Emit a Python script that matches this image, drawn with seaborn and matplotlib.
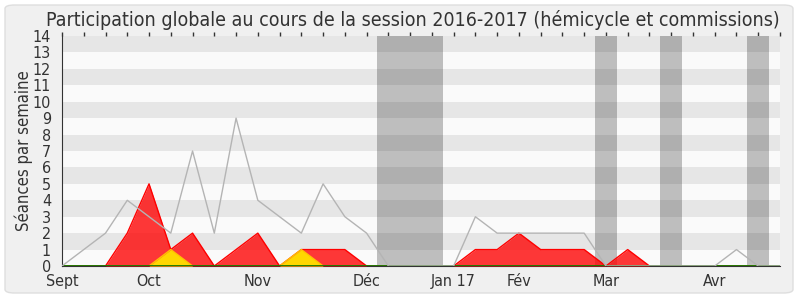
import matplotlib
matplotlib.use("Agg")
import matplotlib.pyplot as plt
import seaborn as sns
import numpy as np
import pandas as pd
from matplotlib.patches import FancyBboxPatch

weeks = list(range(34))
median_sessions = [0, 1, 2, 4, 3, 2, 7, 2, 9, 4, 3, 2, 5, 3, 2, 0, 0, 0,
                   0, 3, 2, 2, 2, 2, 2, 0, 0, 0, 0, 0, 0, 1, 0, 0]
presences = [0, 0, 0, 2, 5, 1, 2, 0, 1, 2, 0, 1, 1, 1, 0, 0, 0, 0,
             0, 1, 1, 2, 1, 1, 1, 0, 1, 0, 0, 0, 0, 0, 0, 0]
participations = [0, 0, 0, 0, 0, 1, 0, 0, 0, 0, 0, 1, 0, 0, 0, 0, 0, 0,
                  0, 0, 0, 0, 0, 0, 0, 0, 0, 0, 0, 0, 0, 0, 0, 0]
interventions = [0] * 34
month_labels = ["Sept", "Oct", "Nov", "Déc", "Jan 17", "Fév", "Mar", "Avr"]
month_weeks = [0, 4, 9, 14, 18, 21, 25, 30]
vacations = [(14.5, 17.5), (24.5, 25.5), (27.5, 28.5), (31.5, 32.5)]
title = "Participation globale au cours de la session 2016-2017 (hémicycle et commissions)"
ylabel = "Séances par semaine"

df = pd.DataFrame({"week": weeks, "median": median_sessions, "presences": presences,
                   "participations": participations, "interventions": interventions})

sns.set_style("white")
plt.rcParams['font.family'] = ['DejaVu Sans']
plt.rcParams['font.stretch'] = 'condensed'

text_color = "#333333"

fig = plt.figure(figsize=(8, 3), dpi=100, facecolor="white")
bg = FancyBboxPatch((5 / 800, 7 / 300), 788 / 800, 288 / 300,
                    boxstyle="round,pad=0,rounding_size=0.012",
                    transform=fig.transFigure, facecolor="#f0f0f0",
                    edgecolor="#dedede", linewidth=1, zorder=-1)
fig.patches.append(bg)

ax = fig.add_axes([62 / 800, 34 / 300, 718 / 800, 230 / 300])
ax.set_facecolor("#fafafa")
ax.set_xlim(0, 33)
ax.set_ylim(0, 14)

for a, b in vacations:
    ax.axvspan(a, b, color="#bebebe", zorder=1, lw=0)
for k in range(1, 14, 2):
    ax.axhspan(k, k + 1, color="black", alpha=0.08, zorder=2, lw=0)

ax.fill_between(df["week"], df["presences"], color="#ff0000", alpha=0.78, lw=0, zorder=3)
sns.lineplot(data=df, x="week", y="presences", color="#ff0000", lw=1, ax=ax, zorder=4)
ax.fill_between(df["week"], df["participations"], color="#ffd700", lw=0, zorder=5)
sns.lineplot(data=df, x="week", y="participations", color="#ffc400", lw=1, ax=ax, zorder=6)
sns.lineplot(data=df, x="week", y="interventions", color="#007000", lw=1.2, ax=ax, zorder=7)
sns.lineplot(data=df, x="week", y="median", color="#b4b4b4", lw=1, ax=ax, zorder=8)

for s in ["top", "right"]:
    ax.spines[s].set_visible(False)
ax.spines["left"].set_color(text_color)
ax.spines["bottom"].set_color(text_color)

ax.set_yticks(range(15))
ax.set_yticklabels([str(i) for i in range(15)], fontsize=11.5, color=text_color)
ax.set_xticks(month_weeks)
ax.set_xticklabels(month_labels, fontsize=11.5, color=text_color)
ax.set_xticks(weeks, minor=True)
ax.tick_params(axis="y", direction="out", length=5, width=1, color=text_color, pad=3)
ax.tick_params(axis="x", which="both", direction="out", length=5, width=1,
               color=text_color, pad=0.5)

top = ax.secondary_xaxis("top")
top.set_xticks(weeks)
top.set_xticklabels([])
top.tick_params(axis="x", direction="out", length=3, width=1, color=text_color)
top.spines["top"].set_visible(False)

ax.set_xlabel("")
ax.set_ylabel(ylabel, fontsize=12, color=text_color)
ax.yaxis.set_label_coords(-0.04, 0.5)
fig.text(0.516, 0.932, title, ha="center", va="center", fontsize=14, color=text_color)

fig.savefig("out.png", dpi=100, facecolor="white")
